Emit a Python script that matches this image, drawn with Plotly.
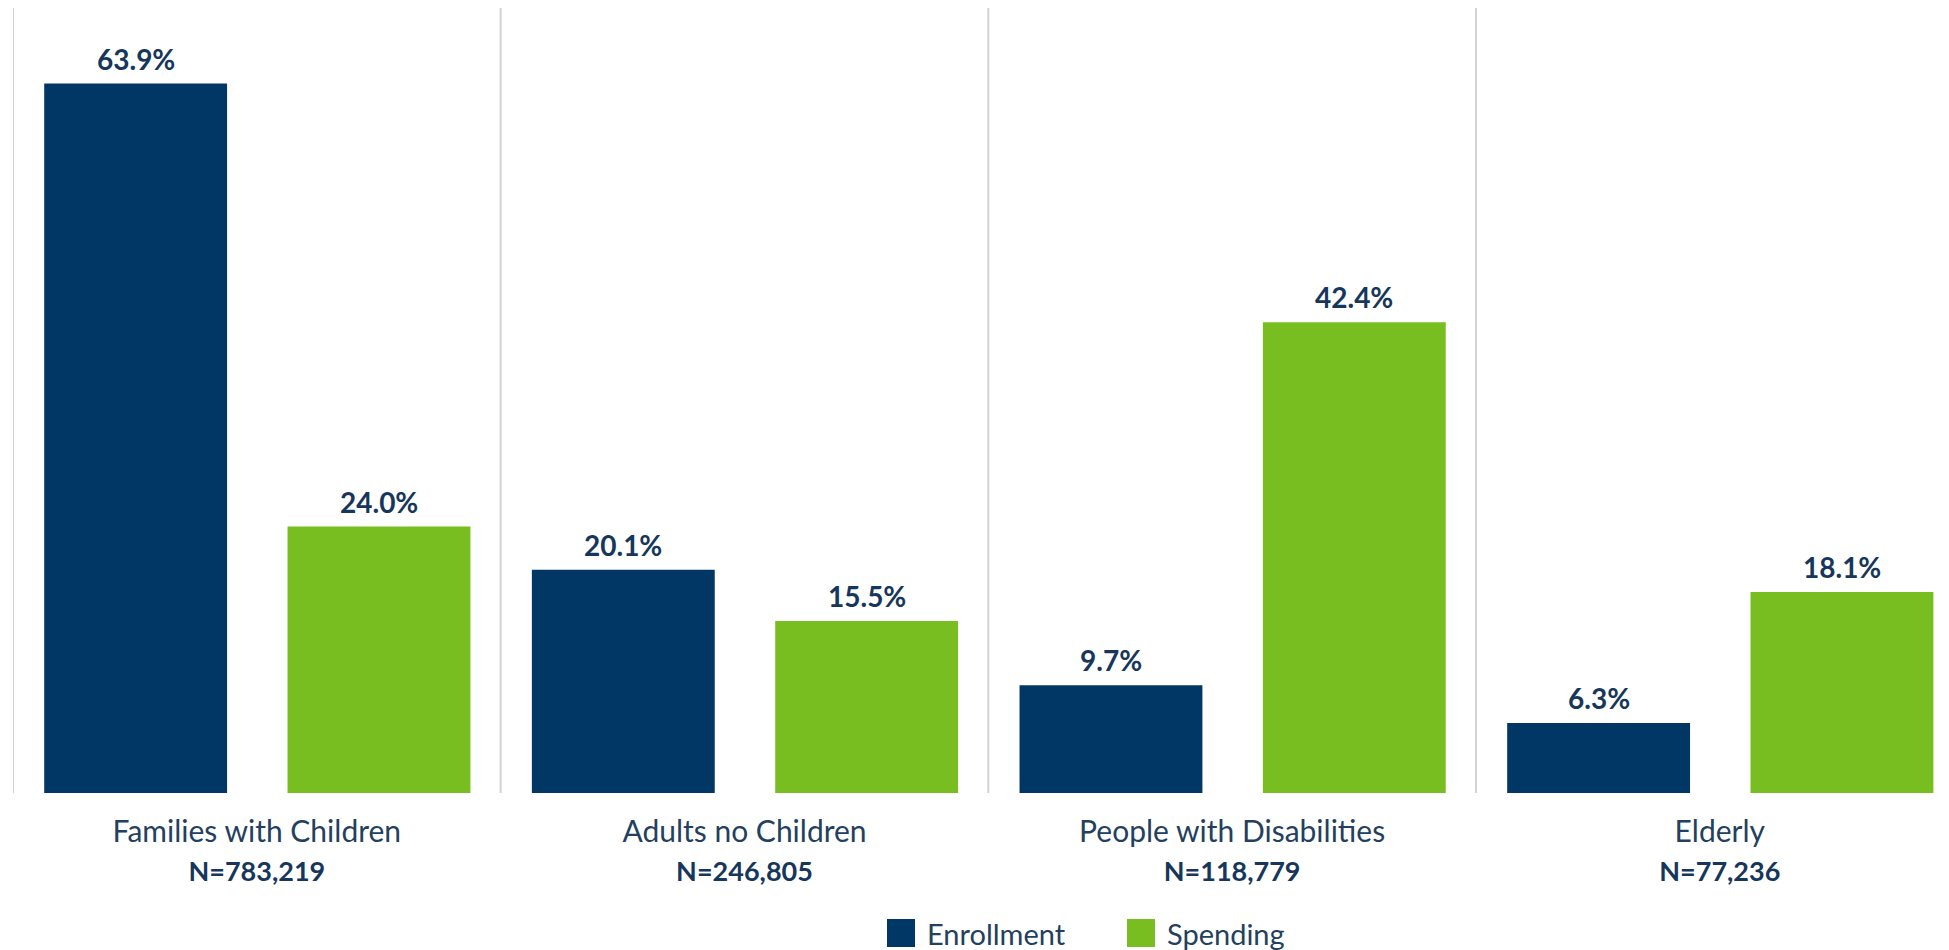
import plotly.graph_objects as go

categories = ["Families with Children", "Adults no Children", "People with Disabilities", "Elderly"]
n_labels = ["N=783,219", "N=246,805", "N=118,779", "N=77,236"]
enrollment = [63.9, 20.1, 9.7, 6.3]
spending = [24.0, 15.5, 42.4, 18.1]
series_names = ["Enrollment", "Spending"]

NAVY = "#003764"
GREEN = "#78BE20"
TEXT = "#243F60"
BOLDTEXT = "#16365C"
FONT = "Lato"

# page body has an 8px margin; size the figure so the plot lands where the reference has it
W, H = 1941, 942
ML, MR, MT, MB = 5, 0, 0, 157
BAR_W = 0.375
OFFSETS = [-0.436, 0.063]

x_idx = list(range(len(categories)))
ticktext = [f"{c}<br><b><span style='color:{BOLDTEXT};font-size:27px'>{n}</span></b>"
            for c, n in zip(categories, n_labels)]

fig = go.Figure()
annotations = []
for vals, name, color, off in [(enrollment, series_names[0], NAVY, OFFSETS[0]),
                               (spending, series_names[1], GREEN, OFFSETS[1])]:
    fig.add_trace(go.Bar(
        x=x_idx, y=vals, name=name,
        marker=dict(color=color, line=dict(width=0)),
        width=BAR_W, offset=off,
        showlegend=False,
        hovertemplate="%{y:.1f}%<extra>" + name + "</extra>",
    ))
    for i, v in zip(x_idx, vals):
        annotations.append(dict(x=i + off + BAR_W / 2, y=v, xref="x", yref="y",
                                text=f"<b>{v:.1f}%</b>", showarrow=False,
                                xanchor="center", yanchor="bottom", yshift=6,
                                font=dict(family=FONT, size=28, color=BOLDTEXT)))

# category dividers
shapes = []
for i in x_idx:
    shapes.append(dict(type="line", xref="x", yref="paper", x0=i - 0.5, x1=i - 0.5,
                       y0=0, y1=1, line=dict(color="#D3D3D3", width=2)))

# manual legend (large square swatches); coordinates given in page pixels
pw = W - ML - MR
ph = H - MT - MB
OX, OY = 8, 8
def px(x):
    return (x - OX - ML) / pw
def py(y):
    return (H - MB - (y - OY)) / ph

for (sx, tx, name, color) in [(887, 925, series_names[0], NAVY), (1127, 1165, series_names[1], GREEN)]:
    shapes.append(dict(type="rect", xref="paper", yref="paper",
                       x0=px(sx), x1=px(sx + 28), y0=py(947), y1=py(919),
                       fillcolor=color, line=dict(width=0)))
    annotations.append(dict(xref="paper", yref="paper", x=px(tx), y=py(933),
                            xanchor="left", yanchor="middle", showarrow=False,
                            text=name, font=dict(family=FONT, size=29, color=TEXT)))

fig.update_layout(
    width=W, height=H,
    margin=dict(l=ML, r=MR, t=MT, b=MB, pad=0),
    paper_bgcolor="white", plot_bgcolor="white",
    barmode="overlay",
    shapes=shapes,
    annotations=annotations,
    xaxis=dict(range=[-0.5, 3.47], tickmode="array", tickvals=x_idx, ticktext=ticktext,
               showgrid=False, zeroline=False, showline=False, ticks="outside",
               ticklen=12, tickcolor="rgba(0,0,0,0)",
               tickfont=dict(family=FONT, size=30, color=TEXT)),
    yaxis=dict(range=[0, 70.7], visible=False, showgrid=False, zeroline=False),
    font=dict(family=FONT),
)

fig.write_html("out.html")
